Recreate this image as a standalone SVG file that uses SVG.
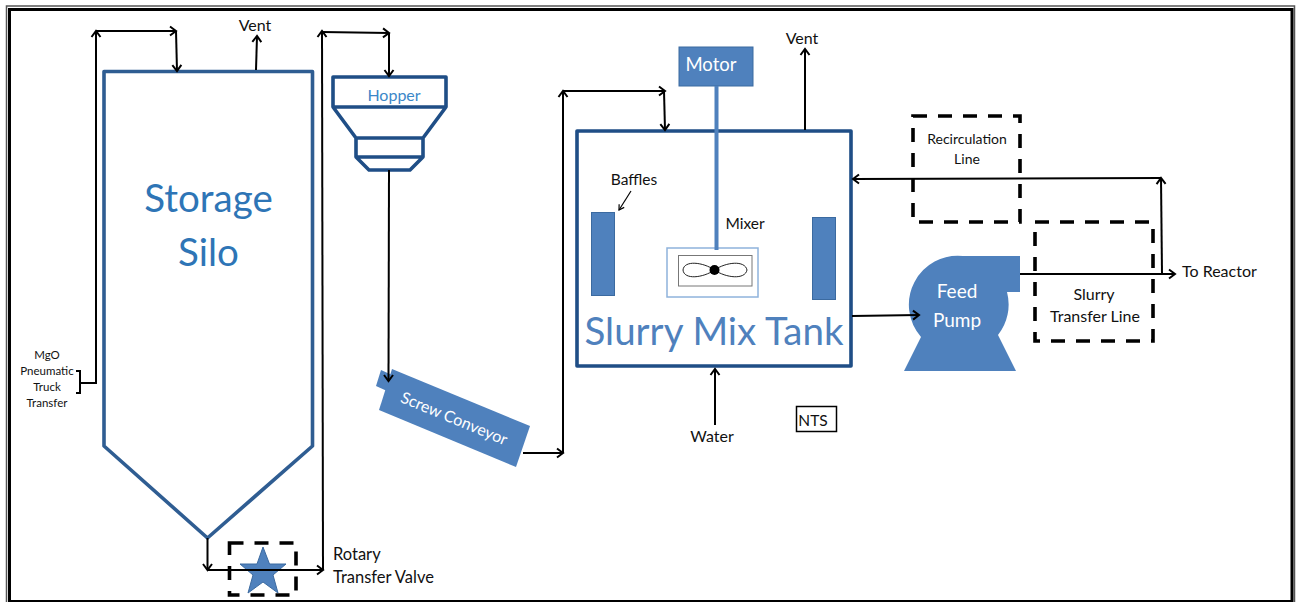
<svg xmlns="http://www.w3.org/2000/svg" width="1296" height="602" viewBox="0 0 1296 602">
<style>
text{font-family:Lato,"Liberation Sans",sans-serif;fill:#111;text-anchor:middle}
.l{text-anchor:start}
.c{fill:none;stroke:#000;stroke-width:2}
.dk{fill:none;stroke:#2f5d92;stroke-width:3.6;stroke-linejoin:round}
.dk2{fill:none;stroke:#1f4e86;stroke-width:3.6;stroke-linejoin:round}
.dash{fill:none;stroke:#000;stroke-width:3.6;stroke-dasharray:14 11}
.bl{fill:#4f81bd}
</style>
<defs>
<marker id="a" markerUnits="userSpaceOnUse" markerWidth="14" markerHeight="14" refX="10" refY="7" orient="auto">
<path d="M4 2.500L10 7L4 11.500" fill="none" stroke="#000" stroke-width="2"/>
</marker>
<marker id="s" markerUnits="userSpaceOnUse" markerWidth="12" markerHeight="12" refX="9" refY="6" orient="auto">
<path d="M4 3L9 6L4 9" fill="none" stroke="#000" stroke-width="1.200"/>
</marker>
</defs>
<rect id="frame-outer" x="6.500" y="6" width="1288" height="600" fill="none" stroke="#555" stroke-width="1.500"/>
<rect id="frame-inner" x="9.500" y="9.500" width="1282.500" height="592" fill="none" stroke="#000" stroke-width="3"/>

<g id="silo">
<polygon class="dk" points="104,71.500 312.500,71.500 312.500,446 207.500,538 104,446"/>
<text x="208.500" y="212" font-size="38.500" style="fill:#2e75b6">Storage</text>
<text x="208.500" y="266" font-size="38.500" style="fill:#2e75b6">Silo</text>
</g>
<g id="hopper">
<path class="dk2" d="M333,77H446V107H333ZM333,107L356,138H423L446,107M356,138V157H423V138M356,157L369,170H410L423,157"/>
<text x="394" y="101" font-size="16" style="fill:#3b87c8">Hopper</text>
</g>
<g id="screw-conveyor">
<polygon class="bl" points="381,370 392,375 387,391 376,386"/>
<polygon class="bl" points="392,369 530,426 516,467 379,410"/>
<text x="454" y="424" font-size="16" transform="rotate(22.500 454 419)" style="fill:#fff">Screw Conveyor</text>
</g>
<g id="tank">
<rect class="dk2" x="577" y="131" width="274" height="235"/>
<text x="714" y="345" font-size="38.500" style="fill:#4f81bd">Slurry Mix Tank</text>
</g>
<g id="baffle-left"><rect class="bl" x="591.500" y="212.500" width="23" height="83" stroke="#3b6aa0"/></g>
<g id="baffle-right"><rect class="bl" x="812.500" y="217.500" width="23" height="82" stroke="#3b6aa0"/></g>
<g id="baffles-label"><text x="634" y="185" font-size="15.500">Baffles</text></g>
<g id="motor">
<rect class="bl" x="679" y="47" width="74" height="39" stroke="#3b6aa0"/>
<text x="711" y="71" font-size="18.500" style="fill:#fff">Motor</text>
</g>
<g id="mixer">
<rect x="667" y="248" width="91" height="49" fill="#fff" stroke="#8fb3dc" stroke-width="1.500"/>
<rect x="678.500" y="255.500" width="73.500" height="30.500" fill="#fff" stroke="#777" stroke-width="1"/>
<path d="M714.500,270C703,262 684,260 683,270C684,280 703,278 714.500,270C726,262 745,260 747,270C745,280 726,278 714.500,270Z" fill="none" stroke="#222" stroke-width="1"/>
<circle cx="714.500" cy="270" r="5" fill="#000"/>
<line x1="716.500" y1="86" x2="716.500" y2="250" stroke="#4f81bd" stroke-width="4"/>
<text x="745" y="229" font-size="15.500">Mixer</text>
</g>
<g id="pump">
<path class="bl" d="M1020,256H963A49,49 0 0 0 921,337L904,371H1016L998,335A49,49 0 0 0 1007,292H1020Z"/>
<text x="957" y="298" font-size="19" style="fill:#fff">Feed</text>
<text x="957" y="327" font-size="19" style="fill:#fff">Pump</text>
</g>
<g id="rotary-valve">
<polygon class="bl" stroke="#3b6aa0" points="263,547 269.500,564 286,564 273,575 278,593 263,582 248,593 253,575 240,564 257,564"/>
<rect class="dash" x="229.500" y="543" width="66.500" height="52"/>
<text class="l" x="333" y="560" font-size="16.500">Rotary</text>
<text class="l" x="333" y="583" font-size="16.500">Transfer Valve</text>
</g>
<g id="recirculation-line">
<rect class="dash" x="913" y="116" width="107" height="106"/>
<text x="967" y="144" font-size="14">Recirculation</text>
<text x="967" y="164" font-size="14">Line</text>
</g>
<g id="slurry-transfer-line">
<rect class="dash" x="1035" y="222" width="118" height="119"/>
<text x="1094" y="300" font-size="16">Slurry</text>
<text x="1095" y="322" font-size="16">Transfer Line</text>
</g>
<g id="mgo-label">
<text x="47" y="359" font-size="11.500">MgO</text>
<text x="47" y="375" font-size="11.500">Pneumatic</text>
<text x="47" y="391" font-size="11.500">Truck</text>
<text x="47" y="407" font-size="11.500">Transfer</text>
</g>
<g id="vent-1"><text x="255" y="31" font-size="16">Vent</text></g>
<g id="vent-2"><text x="802" y="44" font-size="16">Vent</text></g>
<g id="water"><text x="712" y="442" font-size="16">Water</text></g>
<g id="nts"><rect x="796.500" y="406.500" width="40" height="25" fill="none" stroke="#000" stroke-width="1.500"/><text x="813" y="426" font-size="15.500">NTS</text></g>
<g id="to-reactor"><text class="l" x="1182" y="277" font-size="16">To Reactor</text></g>

<g id="connectors">
<path class="c" d="M76,371H80V393H76M80,383H96V31" marker-end="url(#a)"/>
<path class="c" d="M96,31H176" marker-end="url(#a)"/>
<path class="c" d="M176,31L177,71" marker-end="url(#a)"/>
<path class="c" d="M256,70L257,36" marker-end="url(#a)"/>
<path class="c" d="M207.500,538V570" marker-end="url(#a)"/>
<path class="c" d="M207.500,570L323,570" marker-end="url(#a)"/>
<path class="c" d="M323,570L322,31" marker-end="url(#a)"/>
<path class="c" d="M322,32L389,33" marker-end="url(#a)"/>
<path class="c" d="M389,33V76" marker-end="url(#a)"/>
<path class="c" d="M389,170L388.500,381" marker-end="url(#a)"/>
<path class="c" d="M523,453L563,453" marker-end="url(#a)"/>
<path class="c" d="M563,453V91" marker-end="url(#a)"/>
<path class="c" d="M563,91H665" marker-end="url(#a)"/>
<path class="c" d="M664,91L665,130" marker-end="url(#a)"/>
<path class="c" d="M805,130V49" marker-end="url(#a)"/>
<path class="c" d="M715,425V369" marker-end="url(#a)"/>
<path class="c" d="M852,316L919,315" marker-end="url(#a)"/>
<path class="c" d="M1020,274H1175" marker-end="url(#a)"/>
<path class="c" d="M1162,274L1161,178" marker-end="url(#a)"/>
<path class="c" d="M1161,178L853,179" marker-end="url(#a)"/>
<path fill="none" stroke="#000" stroke-width="1.200" d="M631,191L619,210" marker-end="url(#s)"/>
</g>
</svg>
